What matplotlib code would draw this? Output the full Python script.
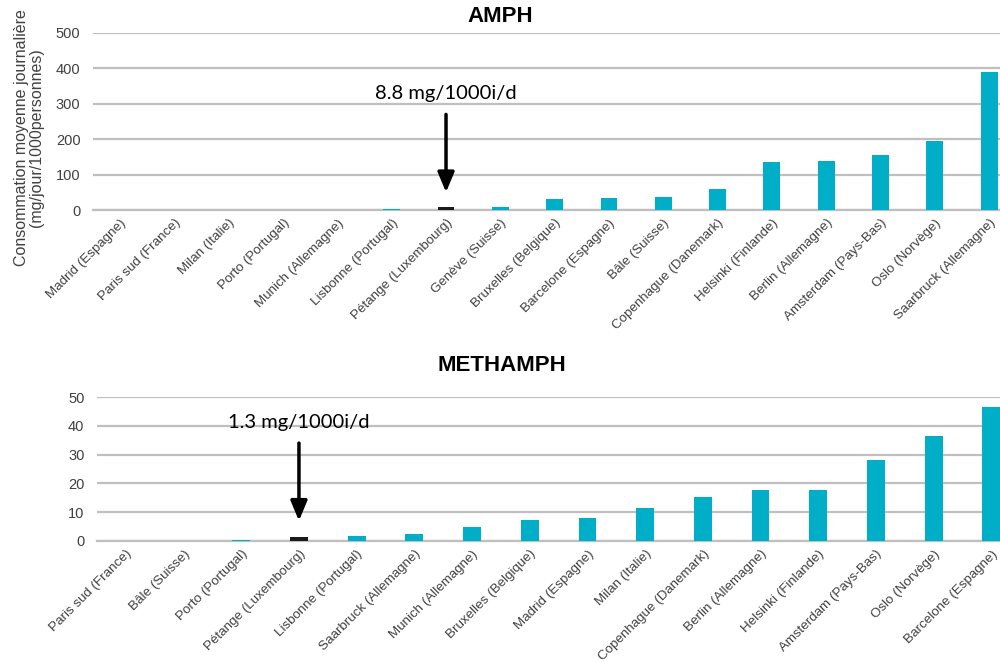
import matplotlib.pyplot as plt
import numpy as np

plt.rcParams['font.family'] = ['Liberation Sans', 'DejaVu Sans']

amph_cities = ["Madrid (Espagne)", "Paris sud (France)", "Milan (Italie)", "Porto (Portugal)",
               "Munich (Allemagne)", "Lisbonne (Portugal)", "Pétange (Luxembourg)", "Genève (Suisse)",
               "Bruxelles (Belgique)", "Barcelone (Espagne)", "Bâle (Suisse)", "Copenhague (Danemark)",
               "Helsinki (Finlande)", "Berlin (Allemagne)", "Amsterdam (Pays-Bas)", "Oslo (Norvège)",
               "Saarbruck (Allemagne)"]
amph_values = [0, 0, 0, 0, 0, 3, 8.8, 8, 31, 33, 36, 59, 135, 138, 154, 195, 391]

meth_cities = ["Paris sud (France)", "Bâle (Suisse)", "Porto (Portugal)", "Pétange (Luxembourg)",
               "Lisbonne (Portugal)", "Saarbruck (Allemagne)", "Munich (Allemagne)", "Bruxelles (Belgique)",
               "Madrid (Espagne)", "Milan (Italie)", "Copenhague (Danemark)", "Berlin (Allemagne)",
               "Helsinki (Finlande)", "Amsterdam (Pays-Bas)", "Oslo (Norvège)", "Barcelone (Espagne)"]
meth_values = [0, 0, 0.4, 1.3, 1.6, 2.4, 4.8, 7.2, 8.0, 11.5, 15.2, 17.6, 17.6, 28.0, 36.6, 46.7]

highlight = "Pétange (Luxembourg)"
teal = "#00AEC7"
grid_col = "#BFBFBF"
label_col = "#404040"

fig = plt.figure(figsize=(10, 6.62), dpi=100)
ax1 = fig.add_axes([0.093, 1 - 210 / 662, 0.907, 177 / 662])
ax2 = fig.add_axes([0.097, 1 - 541 / 662, 0.903, 144 / 662])


def draw(ax, cities, values, ymax, step, xmax):
    x = np.arange(len(cities))
    colors = ["#1A1A1A" if c == highlight else teal for c in cities]
    ax.bar(x, values, width=0.31, color=colors, zorder=3)
    ax.set_ylim(0, ymax)
    ax.set_xlim(-0.5, xmax)
    ax.set_yticks(np.arange(0, ymax + 1, step))
    ax.yaxis.grid(True, color=grid_col, linewidth=1.6, zorder=0)
    ax.set_axisbelow(True)
    for s in ["top", "right", "left"]:
        ax.spines[s].set_visible(False)
    ax.spines["bottom"].set_color(grid_col)
    ax.spines["bottom"].set_linewidth(1.6)
    ax.tick_params(axis="y", length=0, labelsize=10.5, labelcolor=label_col, pad=9)
    ax.tick_params(axis="x", length=0, labelsize=9.6, labelcolor=label_col, pad=5)
    ax.set_xticks(x)
    ax.set_xticklabels(cities, rotation=45, ha="right", rotation_mode="anchor")
    return x


x1 = draw(ax1, amph_cities, amph_values, 500, 100, 16.2)
x2 = draw(ax2, meth_cities, meth_values, 50, 10, 15.15)

ax1.set_ylabel("Consommation moyenne journalière\n(mg/jour/1000personnes)", fontsize=11.5,
               color=label_col, linespacing=1.0, va="center")
ax1.yaxis.set_label_coords(-0.071, 0.41)

fig.text(0.5, 1 - 17 / 662, "AMPH", ha="center", va="center", fontsize=16, fontweight="bold")
fig.text(0.502, 1 - 366 / 662, "METHAMPH", ha="center", va="center", fontsize=16, fontweight="bold")

arrow = dict(arrowstyle="-|>,head_width=0.5,head_length=1.2", color="black", lw=2.5,
             shrinkA=0, shrinkB=0)

i1 = amph_cities.index(highlight)
ax1.annotate("", xy=(i1, 50), xytext=(i1, 270), arrowprops=arrow)
ax1.text(i1, 330, "8.8 mg/1000i/d", ha="center", va="center", fontsize=14.5, family=["Lato", "DejaVu Sans"])

i2 = meth_cities.index(highlight)
ax2.annotate("", xy=(i2, 7), xytext=(i2, 34), arrowprops=arrow)
ax2.text(i2, 41, "1.3 mg/1000i/d", ha="center", va="center", fontsize=14.5, family=["Lato", "DejaVu Sans"])

fig.savefig("out.png", dpi=100)
